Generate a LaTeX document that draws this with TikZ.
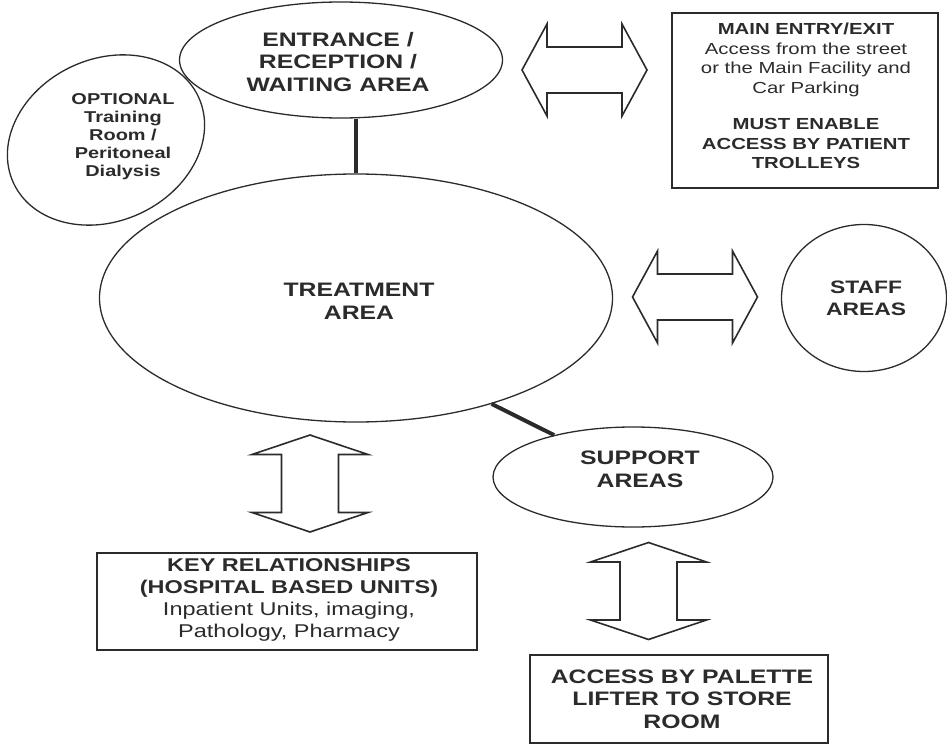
\documentclass[tikz,border=0pt]{standalone}
\usepackage{fontspec}
\setmainfont{Liberation Sans}[FakeStretch=1.27]
\usetikzlibrary{shapes.geometric}
\definecolor{ink}{HTML}{2B2B2B}
\tikzset{
  area/.style={ellipse, draw=ink, line width=1.3pt, fill=white, inner sep=0pt},
  box/.style={rectangle, draw=ink, line width=1.8pt, inner sep=0pt},
  lbl/.style={align=center, text=ink, inner sep=0pt},
  conn/.style={draw=ink, line width=4pt},
  harrow/.pic={\draw[ink, line width=1.6pt, line join=miter, fill=white]
     (-62.5,0) -- (-37.5,-46) -- (-37.5,-23) -- (37.5,-23) -- (37.5,-46) -- (62.5,0)
     -- (37.5,46) -- (37.5,23) -- (-37.5,23) -- (-37.5,46) -- cycle;},
  varrow/.pic={\draw[ink, line width=1.6pt, line join=miter, fill=white]
     (0,-48.5) -- (58,-29) -- (28.5,-29) -- (28.5,29) -- (58,29) -- (0,48.5)
     -- (-58,29) -- (-28.5,29) -- (-28.5,-29) -- (-58,-29) -- cycle;}
}
\begin{document}
\begin{tikzpicture}[x=1pt,y=-1pt]
\useasboundingbox (0,0) rectangle (947,749);

% ellipses
\node[area, minimum width=513, minimum height=248] (treat) at (356,298) {};
\node[area, minimum width=204, minimum height=162, rotate=25] (opt) at (106,140) {};
\node[area, minimum width=323, minimum height=116] (entr) at (341,60) {};
\node[area, minimum width=165, minimum height=147] (staff) at (864,298) {};
\node[area, minimum width=280, minimum height=100] (supp) at (633,477) {};

% boxes
\node[box, minimum width=266, minimum height=175] (mainbox) at (805,100.5) {};
\node[box, minimum width=380, minimum height=97] (key) at (287,601.5) {};
\node[box, minimum width=298, minimum height=88] (pal) at (679,699) {};

% connectors
\draw[conn] (treat.north |- entr.south) -- (treat.north);
\draw[conn] (treat.-38) -- (supp.152);

% block arrows
\coordinate (a1) at (584.5,70);
\coordinate (a2) at (695,297);
\coordinate (a3) at (310,483.5);
\coordinate (a4) at (648.5,591);
\pic at (a1) {harrow};
\pic at (a2) {harrow};
\pic at (a3) {varrow};
\pic at (a4) {varrow};

% texts
\node[lbl, font=\fontsize{19.5}{22.5}\selectfont\bfseries] (entrT) at (338,62)
  {ENTRANCE /\\RECEPTION /\\WAITING AREA};
\node[lbl, font=\fontsize{15.7}{18}\selectfont\bfseries] (optT) at (123,137)
  {OPTIONAL\\Training\\Room /\\Peritoneal\\Dialysis};
\node[lbl, font=\fontsize{19.5}{23}\selectfont\bfseries] (treatT) at (359,301)
  {TREATMENT\\AREA};
\node[lbl, font=\fontsize{18}{22}\selectfont\bfseries] (staffT) at (866,298)
  {STAFF\\AREAS};
\node[lbl, font=\fontsize{19.5}{23}\selectfont\bfseries] (suppT) at (640,469)
  {SUPPORT\\AREAS};
\node[lbl, font=\fontsize{16}{19.5}\selectfont] (mainT) at (806,96)
  {\textbf{MAIN ENTRY/EXIT}\\Access from the street\\or the Main Facility and\\Car Parking\\[17pt]\textbf{MUST ENABLE}\\\textbf{ACCESS BY PATIENT}\\\textbf{TROLLEYS}};
\node[lbl, font=\fontsize{18.5}{22.3}\selectfont] (keyT) at (289,600)
  {\textbf{KEY RELATIONSHIPS}\\\textbf{(HOSPITAL BASED UNITS)}\\Inpatient Units, imaging,\\Pathology, Pharmacy};
\node[lbl, font=\fontsize{19.5}{22.5}\selectfont\bfseries] (palT) at (682,699)
  {ACCESS BY PALETTE\\LIFTER TO STORE\\ROOM};
\end{tikzpicture}
\end{document}
